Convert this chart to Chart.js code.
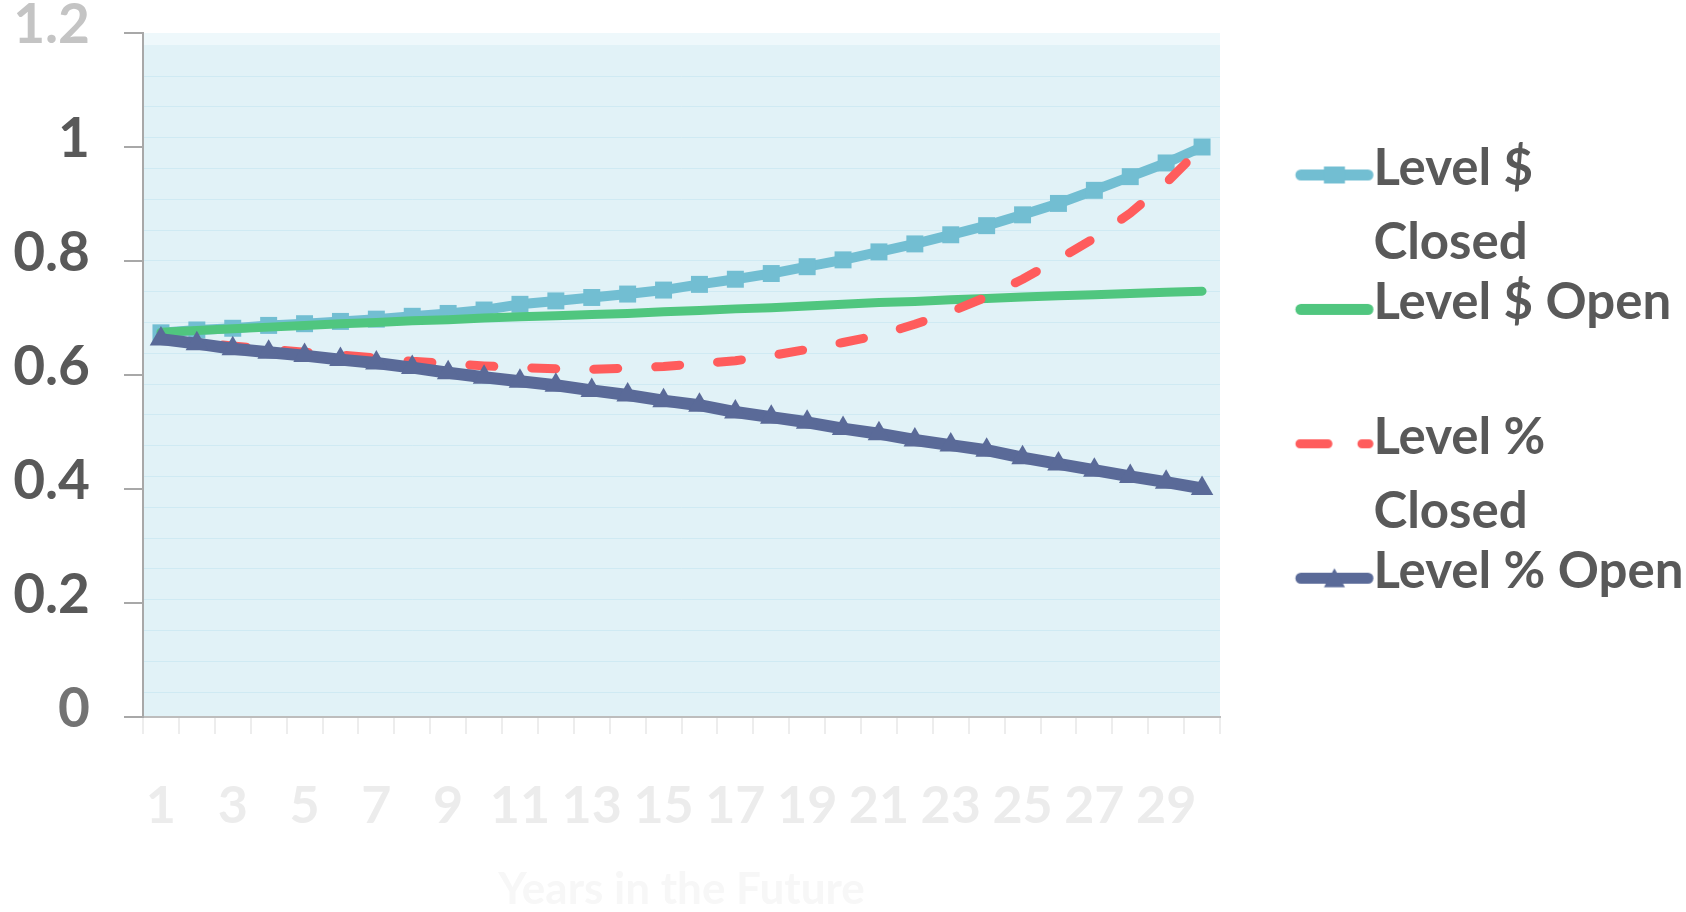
<!DOCTYPE html>
<html>
<head>
<meta charset="utf-8">
<script src="https://cdn.jsdelivr.net/npm/chart.js@4.4.1/dist/chart.umd.min.js"></script>
<style>
  html, body { margin: 0; padding: 0; background: #ffffff; }
  canvas { display: block; }
</style>
</head>
<body>
<canvas id="chart" width="1686" height="912"></canvas>
<script>
// Years along the horizontal axis
const years = ['1','2','3','4','5','6','7','8','9','10','11','12','13','14','15',
               '16','17','18','19','20','21','22','23','24','25','26','27','28','29','30'];

// Series values, one per year
const levelDollarClosed = [0.674, 0.679, 0.682, 0.687, 0.690, 0.694, 0.698, 0.703, 0.708, 0.714,
                           0.724, 0.730, 0.736, 0.742, 0.749, 0.759, 0.768, 0.778, 0.790, 0.802,
                           0.816, 0.830, 0.846, 0.862, 0.881, 0.901, 0.924, 0.948, 0.972, 1.000];
const levelDollarOpen   = [0.675, 0.678, 0.681, 0.684, 0.687, 0.690, 0.692, 0.695, 0.697, 0.700,
                           0.702, 0.704, 0.706, 0.708, 0.711, 0.713, 0.716, 0.718, 0.721, 0.724,
                           0.727, 0.729, 0.732, 0.734, 0.737, 0.739, 0.741, 0.743, 0.745, 0.747];
const levelPctClosed    = [0.663, 0.657, 0.651, 0.645, 0.640, 0.635, 0.630, 0.624, 0.620, 0.616,
                           0.613, 0.611, 0.610, 0.612, 0.615, 0.620, 0.625, 0.634, 0.645, 0.657,
                           0.670, 0.689, 0.711, 0.737, 0.768, 0.803, 0.840, 0.884, 0.937, 1.000];
const levelPctOpen      = [0.663, 0.655, 0.646, 0.640, 0.634, 0.627, 0.621, 0.613, 0.604, 0.596,
                           0.589, 0.582, 0.573, 0.565, 0.555, 0.547, 0.535, 0.526, 0.517, 0.506,
                           0.497, 0.486, 0.477, 0.468, 0.455, 0.444, 0.433, 0.422, 0.412, 0.401];

// Legend captions (wrapped onto two lines)
const seriesNames = [['Level $', 'Closed'], ['Level $ Open', ''], ['Level %', 'Closed'], ['Level % Open', '']];

// Value axis range
const yMin = 0, yMax = 1.2, yStep = 0.2;

// ---- styling ----
const FONT = 'Lato';
const TEXT = '#595959';
const C_BLUE = '#72bed2', C_GREEN = '#50c67f', C_RED = '#ff5c5c', C_NAVY = '#5a6a98';

const AREA = { left: 143, top: 33, right: 1220, bottom: 717 };
const LEGEND_FONT = 51, LEGEND_LINE = 74.5, LEGEND_PAD = -14.6, LEGEND_BOX = 142.5;
const SYM_W = 200, SYM_H = 64, SYM_DY = 6.5, SYM_LEFT = 90, SYM_LEN = 78;

// Legend keys: a short stroke with the series marker in the middle
function legendSymbol(color, width, marker, dash) {
  const c = document.createElement('canvas');
  c.width = SYM_W; c.height = SYM_H;
  const g = c.getContext('2d');
  const start = SYM_LEFT - LEGEND_BOX / 2 + SYM_W / 2;
  const end = start + SYM_LEN;
  const yc = SYM_H / 2 + SYM_DY;
  g.strokeStyle = color; g.fillStyle = color;
  g.lineWidth = width; g.lineCap = 'round';
  if (dash) g.setLineDash(dash);
  g.beginPath(); g.moveTo(start + width / 2, yc); g.lineTo(end - width / 2, yc); g.stroke();
  g.setLineDash([]);
  const mx = (start + end) / 2;
  if (marker === 'rect') g.fillRect(mx - 10.5, yc - 8.5, 21, 17);
  if (marker === 'triangle') {
    g.beginPath(); g.moveTo(mx, yc - 10); g.lineTo(mx + 10.5, yc + 9); g.lineTo(mx - 10.5, yc + 9);
    g.closePath(); g.fill();
  }
  return c;
}
const symbols = [
  legendSymbol(C_BLUE, 11, 'rect'),
  legendSymbol(C_GREEN, 11),
  legendSymbol(C_RED, 9, null, [28, 34]),
  legendSymbol(C_NAVY, 11, 'triangle')
];

// Legend column width; the legend sits right next to the plot
const LEGEND_SPACE = 1686 - AREA.right;
const measure = document.createElement('canvas').getContext('2d');
measure.font = `bold ${LEGEND_FONT}px ${FONT}`;
const longestCaption = Math.max(...seriesNames.map(lines =>
  measure.measureText(lines.reduce((a, b) => a.length > b.length ? a : b)).width));
const legendWidth = LEGEND_PAD + LEGEND_BOX + LEGEND_FONT / 2 + longestCaption + 10;
const padRight = Math.max(0, LEGEND_SPACE - legendWidth);

const plotBackground = {
  id: 'plotBackground',
  beforeDraw(chart) {
    const { ctx, chartArea: a } = chart;
    ctx.save();
    ctx.fillStyle = '#e1f2f7';
    ctx.fillRect(a.left, a.top, a.right - a.left, a.bottom - a.top);
    ctx.fillStyle = '#eef8fb';
    ctx.fillRect(a.left, a.top, a.right - a.left, 12);
    ctx.restore();
  }
};

new Chart(document.getElementById('chart'), {
  type: 'line',
  data: {
    labels: years,
    datasets: [
      { label: seriesNames[0], data: levelDollarClosed, order: 3,
        borderColor: C_BLUE, backgroundColor: C_BLUE, borderWidth: 10,
        pointStyle: 'rect', pointRadius: 12, pointBorderWidth: 0, pointBackgroundColor: C_BLUE },
      { label: seriesNames[1], data: levelDollarOpen, order: 2,
        borderColor: C_GREEN, backgroundColor: C_GREEN, borderWidth: 9, pointRadius: 0 },
      { label: seriesNames[2], data: levelPctClosed, order: 1,
        borderColor: C_RED, backgroundColor: C_RED, borderWidth: 9, borderDash: [24, 38],
        pointRadius: 0 },
      { label: seriesNames[3], data: levelPctOpen, order: 0,
        borderColor: C_NAVY, backgroundColor: C_NAVY, borderWidth: 12,
        pointStyle: 'triangle', pointRadius: 13, pointBorderWidth: 0, pointBackgroundColor: C_NAVY }
    ]
  },
  options: {
    responsive: false,
    animation: false,
    devicePixelRatio: 1,
    layout: { padding: { left: 0, top: AREA.top, right: padRight, bottom: 0 } },
    elements: {
      line: { tension: 0, borderJoinStyle: 'round', borderCapStyle: 'round' },
      point: { hoverRadius: 12 }
    },
    plugins: {
      tooltip: { enabled: false },
      legend: {
        position: 'right',
        align: 'start',
        maxWidth: LEGEND_SPACE,
        title: { display: true, text: '', font: { size: 10, lineHeight: 1 }, padding: { top: 114.6, bottom: 0 } },
        labels: {
          usePointStyle: true,
          pointStyleWidth: LEGEND_BOX,
          padding: LEGEND_PAD,
          color: TEXT,
          font: { family: FONT, weight: 'bold', size: LEGEND_FONT, lineHeight: LEGEND_LINE / LEGEND_FONT },
          sort: (a, b) => a.datasetIndex - b.datasetIndex,
          generateLabels(chart) {
            const items = Chart.defaults.plugins.legend.labels.generateLabels(chart);
            items.forEach(it => { it.pointStyle = symbols[it.datasetIndex]; });
            return items;
          }
        }
      }
    },
    scales: {
      x: {
        offset: true,
        grid: { offset: true, drawOnChartArea: false, tickLength: 17, color: '#ededed', lineWidth: 2 },
        border: { color: '#bdbdbd', width: 2 },
        ticks: {
          autoSkip: false, maxRotation: 0, minRotation: 0, padding: 41,
          color: '#ececec',
          font: { family: FONT, weight: 'bold', size: 52 },
          callback(value, index) { return index % 2 === 0 ? this.getLabelForValue(value) : ''; }
        },
        title: {
          display: true, text: 'Years in the Future', color: '#f7f7f7',
          font: { family: FONT, weight: 'bold', size: 44, lineHeight: 1 }, padding: { top: 0, bottom: 0 }
        },
        afterFit(s) { s.height = 912 - AREA.bottom; s.paddingLeft = 0; s.paddingRight = 0; }
      },
      y: {
        min: yMin, max: yMax,
        ticks: {
          stepSize: yStep, padding: 34, labelOffset: -8,
          font: { family: FONT, weight: 'bold', size: 55 },
          color: c => c.tick.value >= 1.15 ? '#c4c4c4' : (c.tick.value === 0 ? '#737373' : TEXT),
          callback: v => String(Math.round(v * 10) / 10)
        },
        grid: { drawOnChartArea: false, tickLength: 19, color: '#a8a8a8', lineWidth: 2 },
        border: { color: '#a8a8a8', width: 2 },
        afterFit(s) { s.width = AREA.left; s.paddingTop = 0; s.paddingBottom = 0; }
      },
      yBg: {
        position: 'left',
        min: -0.81, max: 21.4,
        ticks: { display: false, stepSize: 1 },
        grid: {
          drawTicks: false, lineWidth: 1,
          color: c => Number.isInteger(c.tick.value) ? 'rgba(205,233,242,0.9)' : 'rgba(0,0,0,0)'
        },
        border: { display: false },
        afterFit(s) { s.width = 0; s.paddingTop = 0; s.paddingBottom = 0; }
      }
    }
  },
  plugins: [plotBackground]
});
</script>
</body>
</html>
